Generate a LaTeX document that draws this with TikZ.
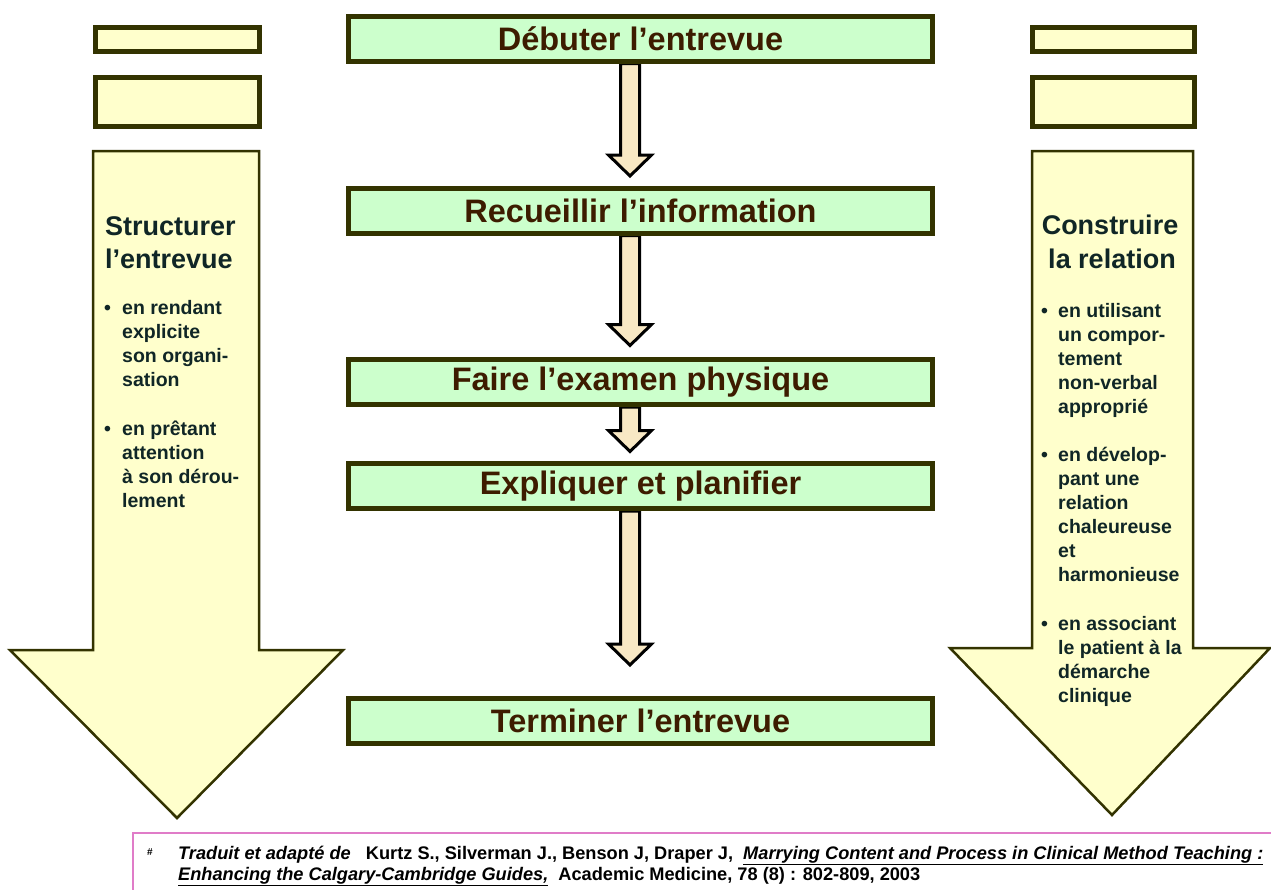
\documentclass[tikz,border=0pt]{standalone}
\usepackage{fontspec}
\setmainfont{Liberation Sans}
\usetikzlibrary{calc,backgrounds}
\definecolor{boxgreen}{HTML}{CCFFCC}
\definecolor{boxline}{HTML}{333300}
\definecolor{sidefill}{HTML}{FFFFCC}
\definecolor{arrfill}{HTML}{F8E8C4}
\definecolor{ctext}{HTML}{3D1C00}
\definecolor{stext}{HTML}{102626}
\definecolor{pinkline}{HTML}{E07CC8}
\newcommand\flowarrow[3]{%
  \draw[flowarr] let \p1=(#1.south), \p2=(#2.north), \n1={\x1-10.5pt}, \n2={\y2+#3pt}, \n3={\y2+#3pt+21pt} in
   (\n1-9.5pt,\y1) -- (\n1+9.5pt,\y1) -- (\n1+9.5pt,\n3) -- (\n1+21.5pt,\n3) -- (\n1,\n2)
   -- (\n1-21.5pt,\n3) -- (\n1-9.5pt,\n3) -- cycle;}
\begin{document}
\begin{tikzpicture}[x=1pt,y=-1pt,
  stepbox/.style={draw=boxline,line width=5pt,fill=boxgreen,minimum width=584pt,minimum height=45pt,inner sep=0pt,font=\fontsize{32.5}{36}\selectfont\bfseries,text=ctext},
  sidebox/.style={draw=boxline,line width=5pt,fill=sidefill,inner sep=0pt},
  bigarrow/.style={draw=boxline,line width=2.5pt,fill=sidefill,line join=miter},
  flowarr/.style={draw=black,line width=3pt,fill=arrfill,line join=miter},
  sidehead/.style={font=\fontsize{27}{33}\selectfont\bfseries,text=stext,inner sep=0pt},
  bul/.style={font=\fontsize{19.5}{24}\selectfont\bfseries,text=stext,anchor=base west,inner sep=0pt},
  foot/.style={font=\fontsize{18.2}{20}\selectfont\bfseries,text=black,anchor=base west,inner sep=0pt}
]
\useasboundingbox (0,0) rectangle (1271,889);
% side bars
\node[sidebox,minimum width=164pt,minimum height=24pt] (L1) at (177.5,39.5) {};
\node[sidebox,minimum width=164pt,minimum height=49pt] (L2) at (177.5,102) {};
\node[sidebox,minimum width=162pt,minimum height=24pt] (R1) at (1113.5,39.5) {};
\node[sidebox,minimum width=162pt,minimum height=49pt] (R2) at (1113.5,102) {};
% big side arrows
\draw[bigarrow] (93,151) -- (259,151) -- (259,650) -- (343,650) -- (177,818) -- (10,650) -- (93,650) -- cycle;
\draw[bigarrow] (1032,151) -- (1193,151) -- (1193,648) -- (1270,648) -- (1112,815) -- (950,648) -- (1032,648) -- cycle;
% headings
\node[sidehead,anchor=base west] (LH1) at (105,235) {Structurer};
\node[sidehead,anchor=base west] (LH2) at (105,268) {l’entrevue};
\node[sidehead,anchor=base] (RH1) at (1110,234) {Construire};
\node[sidehead,anchor=base] (RH2) at (1112,268) {la relation};
% bullets left
\node[bul] (LB1) at (104,314) {•};
\foreach \t [count=\i from 0] in {en rendant,explicite,son organi-,sation}
  \node[bul] (LA\i) at (122,314+24*\i) {\t};
\node[bul] (LB2) at (104,435) {•};
\foreach \t [count=\i from 0] in {en prêtant,attention,à son dérou-,lement}
  \node[bul] (LC\i) at (122,435+24*\i) {\t};
% bullets right
\node[bul] (RB1) at (1041,317) {•};
\foreach \t [count=\i from 0] in {en utilisant,un compor-,tement,non-verbal,approprié}
  \node[bul] (RA\i) at (1058,317+24*\i) {\t};
\node[bul] (RB2) at (1041,461) {•};
\foreach \t [count=\i from 0] in {en dévelop-,pant une,relation,chaleureuse,et,harmonieuse}
  \node[bul] (RC\i) at (1058,461+24*\i) {\t};
\node[bul] (RB3) at (1041,630) {•};
\foreach \t [count=\i from 0] in {en associant,le patient à la,démarche,clinique}
  \node[bul] (RD\i) at (1058,630+24*\i) {\t};
% center steps
\node[stepbox] (s1) at (640.5,38.5) {Débuter l’entrevue};
\node[stepbox] (s2) at (640.5,210.5) {Recueillir l’information};
\node[stepbox] (s3) at (640.5,382) {Faire l’examen physique};
\node[stepbox] (s4) at (640.5,486) {Expliquer et planifier};
\node[stepbox] (s5) at (640.5,720.5) {Terminer l’entrevue};
\begin{scope}[on background layer]
\flowarrow{s1}{s2}{9.5}
\flowarrow{s2}{s3}{11.5}
\flowarrow{s3}{s4}{9.5}
\flowarrow{s4}{s5}{30.5}
\end{scope}
% footer
\draw[pinkline,line width=2pt] (133,833) rectangle (1280,900);
\node[foot,font=\fontsize{10}{12}\selectfont\bfseries] (fm) at (147,855) {\#};
\node[foot] (f1) at (178,859) {\itshape Traduit et adapté de\ \ \ \upshape Kurtz S., Silverman J., Benson J, Draper J,\ \ \itshape\underline{Marrying Content and Process in Clinical Method Teaching :}};
\node[foot] (f2) at (178,880.5) {\itshape\underline{Enhancing the Calgary-Cambridge Guides,}\ \ \upshape Academic Medicine, 78 (8) : 802-809, 2003};
\end{tikzpicture}
\end{document}
